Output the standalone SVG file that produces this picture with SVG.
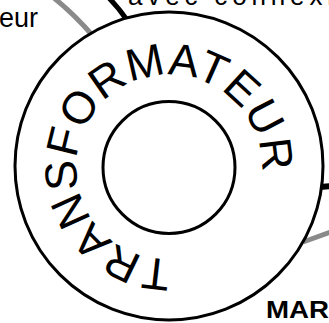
<svg xmlns="http://www.w3.org/2000/svg" width="329" height="323" viewBox="0 0 329 323">
<style>
.lbl{font-family:"Liberation Sans",Arial,sans-serif;fill:#000}
.ring{fill:#fff;stroke:#000;stroke-width:3}
.gray{fill:none;stroke:#8a8a8a;stroke-width:5}
.blk{fill:none;stroke:#000;stroke-width:5}
</style>
<defs>
<path id="arc" d="M171.25,258.97 A92,92 0 1,1 166.75,75.03 A92,92 0 1,1 171.25,258.97"/>
</defs>
<rect width="329" height="323" fill="#fff"/>
<g id="connectors">
<path class="gray" d="M54,-2 Q74,14 93,36"/>
<path class="blk" d="M108,-3 Q118,7 127,20"/>
<path class="blk" d="M320,187 L331,186" style="stroke-width:6"/>
<path class="gray" d="M303,242 L331,232"/>
</g>
<g id="labels">
<text class="lbl" x="38" y="27" font-size="27" text-anchor="end">eur</text>
<text class="lbl" x="128" y="5" font-size="26" textLength="205" lengthAdjust="spacing">avec connexi</text>
<text class="lbl" x="266" y="318" font-size="23" font-weight="bold" textLength="63" lengthAdjust="spacingAndGlyphs">MAR</text>
</g>
<g id="transformateur">
<circle class="ring" cx="169" cy="166" r="154"/>
<circle class="ring" cx="169" cy="167.5" r="66" style="fill:none"/>
<text class="lbl" font-size="45"><textPath href="#arc" textLength="442" lengthAdjust="spacing">TRANSFORMATEUR</textPath></text>
</g>
</svg>
